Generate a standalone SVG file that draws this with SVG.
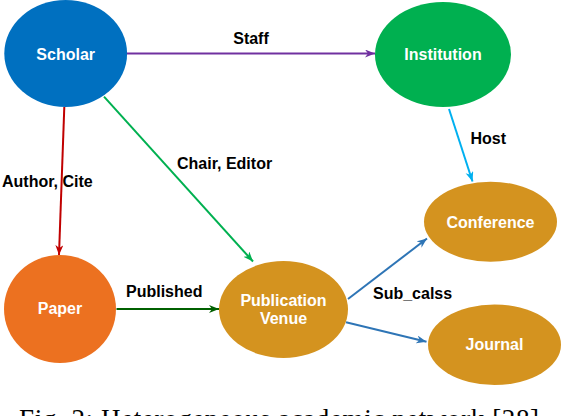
<svg xmlns="http://www.w3.org/2000/svg" width="562" height="416" viewBox="0 0 562 416">
<style>
.nl{font-family:"Liberation Sans",Arial,sans-serif;font-weight:bold;font-size:16px;fill:#fff;text-anchor:middle}
.el{font-family:"Liberation Sans",Arial,sans-serif;font-weight:bold;font-size:16px;fill:#000}
.e{fill:none;stroke-width:2}
.cap{font-family:"Liberation Serif","Times New Roman",serif;font-size:27px;fill:#000}
</style>
<defs>
<marker id="aP" markerUnits="userSpaceOnUse" markerWidth="12" markerHeight="10" refX="10" refY="4" orient="auto"><path d="M0,0 L10,4 L0,8 L3,4 z" fill="#7030A0"/></marker>
<marker id="aR" markerUnits="userSpaceOnUse" markerWidth="12" markerHeight="10" refX="10" refY="4" orient="auto"><path d="M0,0 L10,4 L0,8 L3,4 z" fill="#C00000"/></marker>
<marker id="aG" markerUnits="userSpaceOnUse" markerWidth="12" markerHeight="10" refX="10" refY="4" orient="auto"><path d="M0,0 L10,4 L0,8 L3,4 z" fill="#00B050"/></marker>
<marker id="aC" markerUnits="userSpaceOnUse" markerWidth="12" markerHeight="10" refX="10" refY="4" orient="auto"><path d="M0,0 L10,4 L0,8 L3,4 z" fill="#00B0F0"/></marker>
<marker id="aD" markerUnits="userSpaceOnUse" markerWidth="12" markerHeight="10" refX="10" refY="4" orient="auto"><path d="M0,0 L10,4 L0,8 L3,4 z" fill="#006000"/></marker>
<marker id="aB" markerUnits="userSpaceOnUse" markerWidth="12" markerHeight="10" refX="10" refY="4" orient="auto"><path d="M0,0 L10,4 L0,8 L3,4 z" fill="#2E75B6"/></marker>
</defs>
<rect width="562" height="416" fill="#fff"/>
<g id="connectors">
<line class="e" x1="127" y1="53.5" x2="375" y2="53.5" stroke="#7030A0" marker-end="url(#aP)"/>
<line class="e" x1="64.3" y1="107" x2="59" y2="255" stroke="#C00000" marker-end="url(#aR)"/>
<line class="e" x1="104" y1="96.7" x2="253" y2="261.5" stroke="#00B050" marker-end="url(#aG)"/>
<line class="e" x1="449" y1="109" x2="472.5" y2="181.5" stroke="#00B0F0" marker-end="url(#aC)"/>
<line class="e" x1="116.5" y1="309" x2="219" y2="309" stroke="#006000" stroke-width="3" marker-end="url(#aD)"/>
<line class="e" x1="348" y1="299" x2="427" y2="238.5" stroke="#2E75B6" marker-end="url(#aB)"/>
<line class="e" x1="346" y1="322.3" x2="426.5" y2="341.7" stroke="#2E75B6" marker-end="url(#aB)"/>
<text class="el" x="251" y="43.5" text-anchor="middle">Staff</text>
<text class="el" x="2" y="186.7">Author, Cite</text>
<text class="el" x="177" y="169.3">Chair, Editor</text>
<text class="el" x="470.5" y="144.3">Host</text>
<text class="el" x="126" y="296.7">Published</text>
<text class="el" x="373" y="298.5">Sub_calss</text>
</g>
<g id="scholar">
<ellipse cx="65.7" cy="53.5" rx="61.4" ry="53.5" fill="#0070C0"/>
<text class="nl" x="65.7" y="60">Scholar</text>
</g>
<g id="institution">
<ellipse cx="443" cy="54.5" rx="68" ry="52.5" fill="#00B050"/>
<text class="nl" x="443" y="60">Institution</text>
</g>
<g id="paper">
<ellipse cx="60" cy="309" rx="56" ry="54" fill="#EC7120"/>
<text class="nl" x="60" y="314.3">Paper</text>
</g>
<g id="venue">
<ellipse cx="283.5" cy="309.5" rx="64.5" ry="48.5" fill="#D4931F"/>
<text class="nl" x="283.5" y="305.7">Publication</text>
<text class="nl" x="283.5" y="324.3">Venue</text>
</g>
<g id="conference">
<ellipse cx="490.5" cy="221.7" rx="66.5" ry="40" fill="#D4931F"/>
<text class="nl" x="490.5" y="227.5">Conference</text>
</g>
<g id="journal">
<ellipse cx="494.5" cy="344.7" rx="66.5" ry="40.3" fill="#D4931F"/>
<text class="nl" x="494.5" y="350">Journal</text>
</g>
<text class="cap" x="19" y="428" textLength="520" lengthAdjust="spacing">Fig. 2: Heterogeneous academic network [28]</text>
</svg>
